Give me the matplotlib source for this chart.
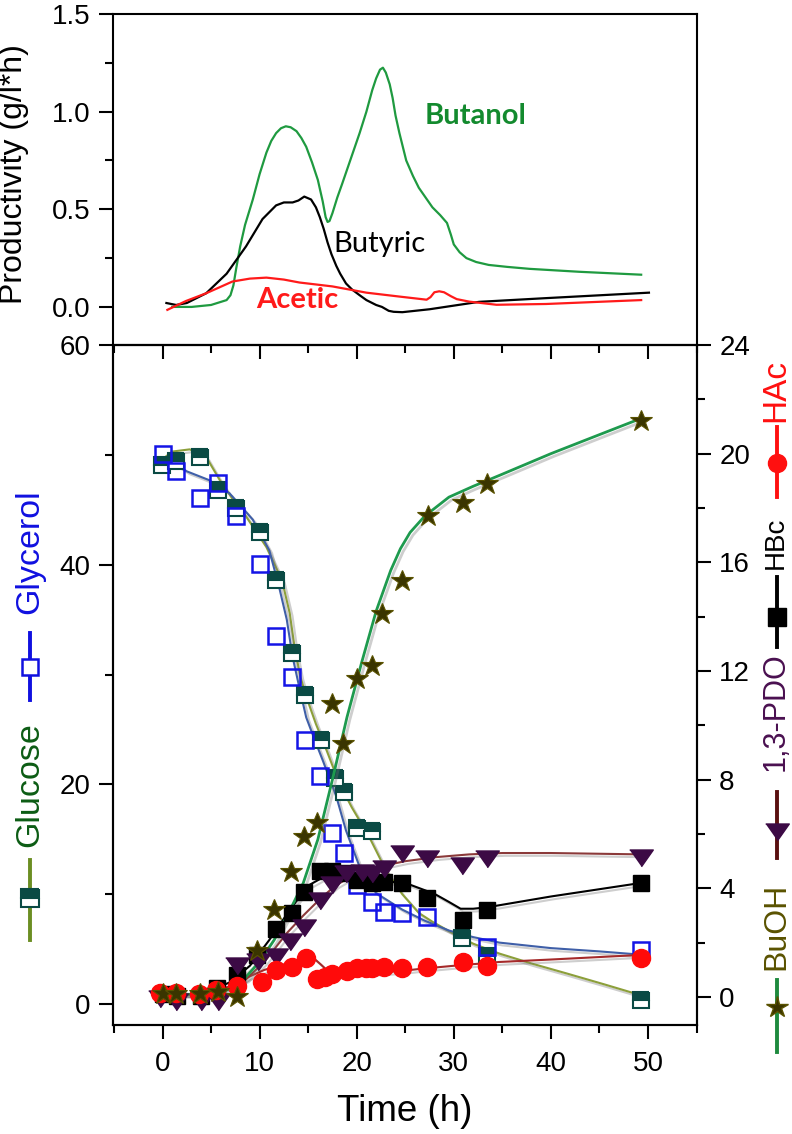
import matplotlib
matplotlib.use("Agg")
import matplotlib.pyplot as plt
import matplotlib.patheffects as pe
from matplotlib.lines import Line2D
from matplotlib.ticker import MultipleLocator

# ---- top panel: productivity (g/l*h) vs time (h) ----
t_prod_butanol = [1.0, 3.0, 5.0, 6.6, 7.0, 7.3, 7.6, 8.0, 8.5, 9.3, 10.0, 10.7, 11.2, 11.7,
                  12.2, 12.7, 13.2, 13.8, 14.3, 14.8, 15.4, 16.0, 16.5, 16.8, 17.0, 17.2,
                  17.5, 18.0, 18.5, 19.4, 20.3, 21.0, 21.6, 22.0, 22.4, 22.7, 23.0, 23.4,
                  23.7, 24.0, 24.4, 25.1, 25.8, 26.4, 27.1, 27.8, 28.6, 29.3, 29.7, 30.0,
                  30.6, 31.3, 32.3, 33.6, 35.5, 37.8, 42.9, 49.3]
prod_butanol = [0.0, 0.0, 0.01, 0.035, 0.06, 0.11, 0.2, 0.31, 0.42, 0.55, 0.68, 0.79, 0.85,
                0.89, 0.915, 0.925, 0.92, 0.90, 0.865, 0.82, 0.74, 0.65, 0.54, 0.46, 0.435,
                0.44, 0.48, 0.56, 0.63, 0.76, 0.89, 1.0, 1.11, 1.17, 1.215, 1.225, 1.2, 1.14,
                1.07, 0.98, 0.89, 0.75, 0.67, 0.61, 0.56, 0.51, 0.47, 0.43, 0.37, 0.32, 0.28,
                0.25, 0.23, 0.215, 0.205, 0.195, 0.18, 0.165]

t_prod_butyric = [0.4, 1.4, 2.5, 4.5, 6.6, 8.6, 10.3, 11.7, 12.5, 13.4, 14.0, 14.6, 15.3,
                  15.8, 16.2, 16.6, 17.0, 17.4, 17.9, 18.3, 18.9, 19.5, 20.3, 21.0, 22.0,
                  22.6, 23.3, 23.8, 24.7, 26.0, 27.5, 32.6, 39.5, 50.1]
prod_butyric = [0.02, 0.01, 0.02, 0.07, 0.17, 0.31, 0.45, 0.52, 0.535, 0.535, 0.545, 0.565,
                0.55, 0.51, 0.46, 0.40, 0.33, 0.27, 0.21, 0.17, 0.12, 0.09, 0.06, 0.035,
                0.01, 0.0, -0.02, -0.025, -0.027, -0.02, -0.012, 0.026, 0.045, 0.073]

t_prod_acetic = [0.5, 2.4, 4.5, 7.2, 9.0, 10.7, 12.5, 14.1, 17.5, 21.0, 24.4, 27.2, 27.6,
                 28.0, 28.5, 29.0, 29.7, 30.3, 31.6, 34.4, 39.5, 49.3]
prod_acetic = [-0.015, 0.03, 0.07, 0.13, 0.145, 0.15, 0.14, 0.125, 0.105, 0.073, 0.053,
               0.037, 0.05, 0.075, 0.08, 0.075, 0.055, 0.04, 0.027, 0.011, 0.015, 0.035]

# ---- bottom panel, left axis (g/l): substrates ----
t_glucose = [-0.1, 1.4, 3.9, 5.7, 7.6, 10.0, 11.7, 13.3, 14.7, 16.3, 17.8, 18.7, 20.0, 21.6,
             30.8, 33.4, 49.3]
glucose = [49.1, 49.4, 49.8, 46.8, 45.2, 43.0, 38.6, 32.0, 28.1, 24.0, 20.6, 19.3, 16.0, 15.8,
           6.0, 4.4, 0.4]
t_glucose_fit = [-0.3, 1.0, 2.8, 4.5, 5.9, 7.2, 8.6, 10.7, 12.3, 13.1, 13.6, 14.2, 14.8, 15.8,
                 16.9, 18.2, 19.5, 21.3, 23.0, 24.7, 26.4, 27.8, 29.8, 32.0, 34.7, 38.0, 41.6,
                 45.5, 49.3]
glucose_fit = [49.4, 50.3, 50.5, 49.8, 47.7, 46.0, 44.4, 41.6, 38.6, 35.6, 32.5, 29.8, 28.0,
               25.5, 23.1, 20.1, 17.9, 15.2, 12.2, 10.0, 8.3, 7.5, 6.5, 5.5, 4.6, 3.7, 2.8,
               1.8, 0.8]

t_glycerol = [0.0, 1.4, 3.9, 5.7, 7.6, 10.0, 11.7, 13.3, 14.7, 16.2, 17.5, 18.7, 20.0, 21.6,
              22.8, 24.7, 27.2, 33.4, 49.3]
glycerol = [50.1, 48.5, 46.1, 47.4, 44.4, 40.1, 33.5, 29.8, 24.0, 20.8, 15.6, 13.8, 10.8, 9.3,
            8.4, 8.3, 7.9, 5.2, 4.9]
t_glycerol_fit = [-0.5, 0.7, 2.5, 4.8, 6.9, 9.3, 11.0, 12.0, 12.8, 13.4, 14.1, 14.8, 15.7,
                  16.5, 17.9, 18.9, 20.3, 22.0, 24.7, 27.0, 29.5, 32.0, 34.7, 40.0, 45.0, 49.3]
glycerol_fit = [49.4, 49.5, 48.5, 47.7, 46.5, 44.1, 41.3, 38.0, 35.0, 31.6, 28.8, 26.1, 24.0,
                22.2, 18.9, 15.8, 12.5, 10.1, 8.6, 7.6, 6.7, 6.1, 5.6, 5.1, 4.8, 4.5]

# ---- bottom panel, right axis (g/l): products ----
t_buoh = [0.0, 1.4, 3.9, 5.7, 7.7, 9.7, 11.5, 13.2, 14.6, 15.9, 17.5, 18.6, 20.0, 21.6, 22.6,
          24.7, 27.3, 30.9, 33.4, 49.3]
buoh = [0.1, 0.1, 0.1, 0.2, 0.0, 1.7, 3.2, 4.6, 5.9, 6.4, 10.8, 9.3, 11.7, 12.2, 14.1, 15.3,
        17.7, 18.2, 18.9, 21.2]
t_buoh_fit = [0.0, 3.0, 5.5, 7.0, 8.5, 10.0, 11.5, 13.0, 14.5, 16.0, 17.5, 19.0, 20.5, 22.0,
              23.5, 24.5, 25.5, 27.0, 29.5, 32.0, 34.7, 40.0, 45.0, 49.3]
buoh_fit = [0.1, 0.1, 0.15, 0.3, 0.7, 1.3, 2.1, 3.1, 4.2, 5.8, 8.0, 10.3, 12.3, 14.2, 15.7,
            16.5, 17.1, 17.7, 18.4, 18.8, 19.2, 20.0, 20.7, 21.3]

t_pdo = [-0.3, 1.4, 4.0, 5.7, 7.7, 9.8, 11.7, 13.1, 14.6, 16.2, 17.5, 18.9, 20.5, 21.6, 22.8,
         24.7, 27.2, 30.8, 33.4, 49.3]
pdo = [0.0, -0.1, -0.1, -0.1, 1.2, 1.35, 1.55, 2.1, 2.6, 3.6, 4.2, 4.6, 4.65, 4.6, 4.8, 5.35,
       5.15, 4.9, 5.15, 5.2]
t_pdo_fit = [0.0, 3.0, 5.5, 7.0, 8.6, 10.5, 12.8, 14.5, 16.2, 17.8, 19.5, 21.0, 23.0, 25.0,
             28.2, 31.6, 35.0, 40.0, 49.3]
pdo_fit = [0.1, 0.1, 0.2, 0.4, 0.65, 1.3, 2.35, 3.0, 3.6, 4.1, 4.45, 4.65, 4.85, 5.0, 5.15,
           5.25, 5.3, 5.3, 5.25]

t_hbc = [0.0, 1.5, 4.0, 5.6, 7.7, 9.7, 11.7, 13.3, 14.6, 16.2, 17.5, 18.9, 20.0, 21.6, 22.8,
         24.7, 27.2, 30.9, 33.4, 49.3]
hbc = [0.1, 0.05, 0.05, 0.35, 0.8, 1.55, 2.5, 3.1, 3.85, 4.65, 4.65, 4.55, 4.3, 4.2, 4.25, 4.2,
       3.65, 2.85, 3.2, 4.2]
t_hbc_fit = [0.0, 3.0, 5.0, 7.0, 9.0, 11.0, 13.0, 15.0, 17.0, 19.0, 21.0, 23.0, 25.0, 26.5,
             28.0, 29.5, 30.7, 32.0, 33.4, 40.0, 49.3]
hbc_fit = [0.1, 0.1, 0.25, 0.55, 1.15, 2.1, 3.15, 4.1, 4.5, 4.5, 4.35, 4.25, 4.2, 4.0, 3.8,
           3.5, 3.25, 3.25, 3.3, 3.7, 4.2]

t_hac = [-0.3, 1.4, 3.8, 5.5, 7.7, 10.2, 11.7, 13.3, 14.8, 15.9, 16.7, 17.5, 19.0, 20.0, 21.0,
         21.6, 22.8, 24.7, 27.2, 30.9, 33.4, 49.3]
hac = [0.15, 0.15, 0.1, 0.25, 0.4, 0.55, 1.0, 1.1, 1.45, 0.65, 0.75, 0.85, 0.95, 1.05, 1.05,
       1.07, 1.1, 1.05, 1.1, 1.3, 1.15, 1.45]
t_hac_fit = [0.0, 3.0, 5.5, 7.0, 8.6, 10.5, 12.5, 14.0, 15.0, 15.6, 16.3, 16.9, 18.0, 19.5,
             22.0, 24.4, 26.4, 30.0, 34.7, 40.0, 49.3]
hac_fit = [0.1, 0.1, 0.2, 0.4, 0.7, 1.0, 1.2, 1.35, 1.45, 1.42, 1.2, 1.0, 0.92, 0.88, 0.9, 0.95,
           1.03, 1.15, 1.29, 1.38, 1.55]

plt.rcParams["font.family"] = ["Liberation Sans", "DejaVu Sans"]
W, H = 792, 1134
fig = plt.figure(figsize=(W / 100, H / 100), dpi=100)

# axes boxes from pixel frame: x 113..697, top panel 14..345, bottom 345..1025
L, R = 113 / W, 697 / W
ax = fig.add_axes([L, 1 - 1025 / H, R - L, 680 / H])
ax2 = ax.twinx()
axt = fig.add_axes([L, 1 - 345 / H, R - L, 331 / H])
axt.patch.set_alpha(0)

shadow = [pe.SimpleLineShadow(offset=(2, -2), shadow_color="0.45", alpha=0.35), pe.Normal()]
tick_kw = dict(labelsize=20, width=1.5, length=10, pad=6)

# ---- top panel ----
axt.plot(t_prod_butanol, prod_butanol, color="#1f9a40", lw=1.6)
axt.plot(t_prod_butyric, prod_butyric, color="black", lw=1.6)
axt.plot(t_prod_acetic, prod_acetic, color="#ff1a1a", lw=1.6)
axt.text(32.2, 0.98, "Butanol", color="#138a2e", fontsize=21, fontweight="bold",
         family=["Lato", "DejaVu Sans"], ha="center", va="center")
axt.text(22.3, 0.32, "Butyric", color="black", fontsize=21,
         family=["Lato", "DejaVu Sans"], ha="center", va="center")
axt.text(13.9, 0.035, "Acetic", color="#ff1a1a", fontsize=21, fontweight="bold",
         family=["Lato", "DejaVu Sans"], ha="center", va="center")
axt.set_xlim(-5.1, 55.05)
axt.set_ylim(-0.195, 1.5)
axt.yaxis.set_major_locator(MultipleLocator(0.5))
axt.yaxis.set_minor_locator(MultipleLocator(0.25))
axt.xaxis.set_major_locator(MultipleLocator(10))
axt.xaxis.set_minor_locator(MultipleLocator(5))
axt.tick_params(axis="y", which="major", **tick_kw)
axt.tick_params(axis="y", which="minor", width=1.5, length=6)
# these point down into the lower panel, like its inward top ticks
axt.tick_params(axis="x", which="both", labelbottom=False, width=1.5, direction="out")
axt.tick_params(axis="x", which="major", length=10)
axt.tick_params(axis="x", which="minor", length=6)
for s in axt.spines.values():
    s.set_linewidth(1.5)
fig.text(14 / W, 1 - 174 / H, "Productivity (g/l*h)", rotation=90, fontsize=23,
         ha="center", va="center")

# ---- bottom panel, left axis ----
ax.plot(t_glucose_fit, glucose_fit, color="#8c9f3a", lw=1.5, path_effects=shadow, zorder=2)
ax.plot(t_glycerol_fit, glycerol_fit, color="#3f5fa8", lw=1.5, path_effects=shadow, zorder=2)
ax.plot(t_glucose, glucose, ls="none", marker="s", ms=11.5, mew=1.5, mec="#0a4a44",
        mfc="#0a4a44", fillstyle="top", markerfacecoloralt="white", zorder=3)
ax.plot(t_glycerol, glycerol, ls="none", marker="s", ms=11.5, mew=1.8, mec="#1414e6",
        mfc="none", zorder=4)
ax.set_xlim(-5.1, 55.05)
ax.set_ylim(-1.9, 60)
ax.xaxis.set_major_locator(MultipleLocator(10))
ax.xaxis.set_minor_locator(MultipleLocator(5))
ax.yaxis.set_major_locator(MultipleLocator(20))
ax.yaxis.set_minor_locator(MultipleLocator(10))
ax.tick_params(which="major", **tick_kw)
ax.tick_params(which="minor", width=1.5, length=6)
ax.tick_params(axis="x", pad=9)
ax.set_xlabel("Time (h)", fontsize=26.5, labelpad=12)
for s in ax.spines.values():
    s.set_linewidth(1.5)

# ---- bottom panel, right axis ----
tri = [(-1, 0.55), (1, 0.55), (0, -0.87)]
ax2.plot(t_hbc_fit, hbc_fit, color="black", lw=1.5, path_effects=shadow, zorder=2)
ax2.plot(t_pdo_fit, pdo_fit, color="#8b3a3a", lw=1.5, path_effects=shadow, zorder=2)
ax2.plot(t_hac_fit, hac_fit, color="#a52a2a", lw=1.5, path_effects=shadow, zorder=2)
ax2.plot(t_buoh_fit, buoh_fit, color="#1e9a4e", lw=2, path_effects=shadow, zorder=2)
ax2.plot(t_hbc, hbc, ls="none", marker="s", ms=12, color="black", zorder=3)
ax2.plot(t_pdo, pdo, ls="none", marker=tri, ms=17, color="#3c0a45", zorder=4)
ax2.plot(t_hac, hac, ls="none", marker="o", ms=13, color="#ff0a0a", zorder=5)
ax2.plot(t_buoh, buoh, ls="none", marker="*", ms=16.5, mfc="#3a3500", mec="#5a5200",
         mew=0.8, zorder=6)
ax2.set_ylim(-1.03, 24)
ax2.yaxis.set_major_locator(MultipleLocator(4))
ax2.yaxis.set_minor_locator(MultipleLocator(2))
ax2.tick_params(which="major", **tick_kw)
ax2.tick_params(which="minor", width=1.5, length=6)
for s in ax2.spines.values():
    s.set_linewidth(1.5)


# ---- rotated legend-style axis titles ----
def glyph(xp, y0, y1, ym, lcolor, **mk):
    fig.add_artist(Line2D([xp / W, xp / W], [1 - y0 / H, 1 - y1 / H],
                          transform=fig.transFigure, color=lcolor, lw=2.8))
    fig.add_artist(Line2D([xp / W], [1 - ym / H], transform=fig.transFigure,
                          ls="none", **mk))


def vlabel(xp, yp, s, color, size):
    fig.text(xp / W, 1 - yp / H, s, rotation=90, color=color, fontsize=size,
             ha="center", va="center")


vlabel(30, 552, "Glycerol", "#1010e0", 24.5)
glyph(30, 633, 700, 667, "#1010e0", marker="s", ms=12, mew=1.8, mec="#1010e0",
      mfc="white")
vlabel(30, 785, "Glucose", "#0c5c14", 24.5)
glyph(30, 860, 940, 898, "#6b8e23", marker="s", ms=12.5, mew=1.5, mec="#0a4a44",
      mfc="#0a4a44", fillstyle="top", markerfacecoloralt="white")

vlabel(776, 390, "HAc", "#ff1010", 24)
glyph(777, 427, 497, 463, "#ff1010", marker="o", ms=13, color="#ff1010")
vlabel(776, 543, "HBc", "black", 20)
glyph(777, 577, 647, 617, "black", marker="s", ms=12.5, color="black")
vlabel(776, 712, "1,3-PDO", "#4a1050", 22)
glyph(777, 792, 858, 830, "#5a1010", marker=tri, ms=17, color="#3c0a45")
vlabel(776, 926, "BuOH", "#5a5200", 23)
glyph(777, 980, 1052, 1007, "#1e8a3e", marker="*", ms=16, mfc="#3a3500", mec="#5a5200")

fig.savefig("out.png", dpi=100)
